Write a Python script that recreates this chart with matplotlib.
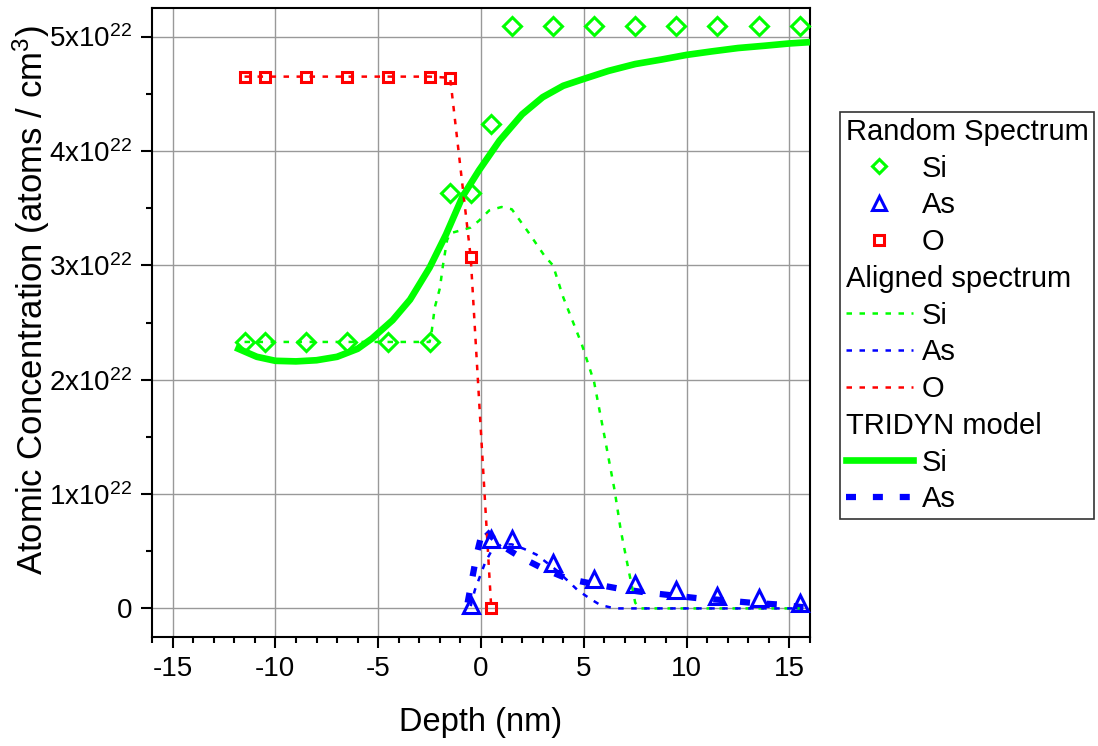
import numpy as np
import matplotlib
matplotlib.use('Agg')
import matplotlib.pyplot as plt
from matplotlib.lines import Line2D

plt.rcParams['font.family'] = ['Liberation Sans', 'DejaVu Sans']
plt.rcParams['axes.unicode_minus'] = False

# Random spectrum (atoms/cm^3, in units of 1e22)
depth_rand = [-11.5, -10.5, -8.5, -6.5, -4.5, -2.5, -1.5, -0.5, 0.5, 1.5,
              3.5, 5.5, 7.5, 9.5, 11.5, 13.5, 15.5]
si_rand = [2.33, 2.33, 2.33, 2.33, 2.33, 2.33, 3.63, 3.63, 4.24, 5.09,
           5.09, 5.09, 5.09, 5.09, 5.09, 5.09, 5.09]
depth_o = [-11.5, -10.5, -8.5, -6.5, -4.5, -2.5, -1.5, -0.5, 0.5]
o_rand = [4.65, 4.65, 4.65, 4.65, 4.65, 4.65, 4.64, 3.07, 0.0]
depth_as = [-0.5, 0.5, 1.5, 3.5, 5.5, 7.5, 9.5, 11.5, 13.5, 15.5]
as_rand = [0.03, 0.61, 0.61, 0.40, 0.26, 0.21, 0.16, 0.11, 0.09, 0.05]

# Aligned spectrum
depth_si_al = [-11.5, -10.5, -8.5, -6.5, -4.5, -2.5, -2.4, -2.25, -2.0, -1.85,
               -1.65, -1.5, -1.1, -0.5, -0.1, 0.4, 1.0, 1.5, 2.3, 3.1, 3.5,
               4.0, 4.9, 5.5, 6.0, 6.5, 6.8, 7.15, 7.5, 7.7, 9.5, 11.5, 13.5, 15.5]
si_al = [2.33, 2.33, 2.33, 2.33, 2.33, 2.33, 2.42, 2.63, 2.80, 3.00,
         3.22, 3.28, 3.30, 3.33, 3.39, 3.48, 3.51, 3.49, 3.29, 3.08, 3.00,
         2.72, 2.31, 1.98, 1.51, 1.03, 0.68, 0.36, 0.05, 0.0, 0.0, 0.0, 0.0, 0.0]
depth_as_al = [-0.5, -0.3, 0.2, 0.5, 1.0, 1.5, 2.1, 2.7, 3.7, 4.7, 5.3, 5.8,
               6.5, 7.5, 9.5, 11.5, 13.5, 15.5]
as_al = [0.02, 0.16, 0.40, 0.50, 0.56, 0.56, 0.52, 0.47, 0.33, 0.16, 0.085,
         0.03, 0.0, 0.0, 0.0, 0.0, 0.0, 0.0]
o_al = o_rand

# TRIDYN model
depth_si_tri = [-11.8, -10.9, -10.0, -9.0, -8.0, -7.0, -6.0, -5.3, -4.3, -3.45,
                -2.5, -1.7, -0.9, -0.1, 0.9, 2.0, 3.0, 4.0, 5.0, 6.2, 7.5,
                8.8, 10.0, 11.2, 12.5, 13.8, 15.0, 16.3]
si_tri = [2.27, 2.20, 2.165, 2.16, 2.17, 2.20, 2.27, 2.36, 2.52, 2.70,
          2.98, 3.27, 3.60, 3.83, 4.09, 4.32, 4.47, 4.57, 4.63, 4.70, 4.76,
          4.80, 4.84, 4.87, 4.90, 4.92, 4.94, 4.955]
depth_as_tri = [-0.65, -0.2, 0.1, 0.5, 1.0, 1.9, 3.0, 4.2, 5.3, 6.8, 8.0,
                10.5, 11.6, 13.1, 14.4, 15.7]
as_tri = [0.05, 0.48, 0.70, 0.63, 0.55, 0.45, 0.35, 0.26, 0.22, 0.17, 0.14,
          0.09, 0.075, 0.05, 0.035, 0.01]

green, blue, red = '#00ff00', '#0000ff', '#ff0000'
e22 = 1e22
dot = (0, (2.2, 3.0))
dash = (0, (1.6, 2.7))

fig = plt.figure(figsize=(10.98, 7.46), dpi=100)
ax = fig.add_axes([152 / 1098, 1 - 637 / 746, (810 - 152) / 1098, (637 - 8) / 746])

ax.plot(depth_si_tri, np.array(si_tri) * e22, color=green, lw=4.8, zorder=3)
ax.plot(depth_as_tri, np.array(as_tri) * e22, color=blue, lw=4.5, ls=dash, zorder=3)
ax.plot(depth_si_al, np.array(si_al) * e22, color=green, lw=1.8, ls=dot, zorder=4)
ax.plot(depth_as_al, np.array(as_al) * e22, color=blue, lw=1.8, ls=dot, zorder=4)
ax.plot(depth_o, np.array(o_al) * e22, color=red, lw=1.8, ls=dot, zorder=4)

mk = dict(ls='none', mfc='none', mew=2.2, zorder=5, clip_on=False)
ax.plot(depth_rand, np.array(si_rand) * e22, marker='D', ms=9, mec=green, **mk)
ax.plot(depth_as, np.array(as_rand) * e22, marker='^', ms=11, mec=blue, **mk)
ax.plot(depth_o, np.array(o_rand) * e22, marker='s', ms=7.5, mec=red, **mk)

ax.set_xlim(-16, 16)
ax.set_ylim(-0.25e22, 5.25e22)
ax.set_xticks([-15, -10, -5, 0, 5, 10, 15])
ax.set_xticks(np.arange(-16, 17, 1), minor=True)
yt = [0, 1e22, 2e22, 3e22, 4e22, 5e22]
ax.set_yticks(yt)
ax.set_yticklabels(['0'] + [r'$\mathregular{%dx10^{22}}$' % i for i in range(1, 6)])
ax.set_yticks(np.arange(0, 5.01e22, 0.5e22), minor=True)
ax.grid(True, which='major', color='#999999', lw=1.0)
ax.set_axisbelow(True)
ax.tick_params(which='major', direction='out', length=8, width=1.5, labelsize=20, pad=6)
ax.tick_params(which='minor', direction='out', length=4, width=1.5)
for s in ax.spines.values():
    s.set_linewidth(1.5)

ax.set_xlabel('Depth (nm)', fontsize=23.5, labelpad=18)
ax.set_ylabel(r'Atomic Concentration (atoms / cm$\mathregular{^3}$)', fontsize=25)
ax.yaxis.set_label_coords(-0.152, 0.536)

# legend with section headers
blank = Line2D([], [], ls='none')
handles = [
    blank,
    Line2D([], [], ls='none', marker='D', ms=7.5, mfc='none', mec=green, mew=2.2),
    Line2D([], [], ls='none', marker='^', ms=9.5, mfc='none', mec=blue, mew=2.2),
    Line2D([], [], ls='none', marker='s', ms=7, mfc='none', mec=red, mew=2.2),
    blank,
    Line2D([], [], color=green, lw=1.8, ls=dot),
    Line2D([], [], color=blue, lw=1.8, ls=dot),
    Line2D([], [], color=red, lw=1.8, ls=dot),
    blank,
    Line2D([], [], color=green, lw=4.8),
    Line2D([], [], color=blue, lw=4.5, ls=dash),
]
labels = ['Random Spectrum', 'Si', 'As', 'O', 'Aligned spectrum', 'Si', 'As', 'O',
          'TRIDYN model', 'Si', 'As']
headers = {0, 4, 8}
leg = fig.legend(handles, labels, loc='upper left',
                 bbox_to_anchor=(840 / 1098, 1 - 112 / 746), borderaxespad=0,
                 fontsize=21, frameon=True, fancybox=False, edgecolor='#333333',
                 framealpha=1, handlelength=2.3, handletextpad=0.3,
                 labelspacing=0.3, borderpad=0.2)
leg.get_frame().set_linewidth(1.2)
rows = leg._legend_handle_box.get_children()[0].get_children()
for i, row in enumerate(rows):
    if i in headers:
        row.get_children()[0].width = 0
        row.sep = 0

fig.savefig('out.png', dpi=100)
